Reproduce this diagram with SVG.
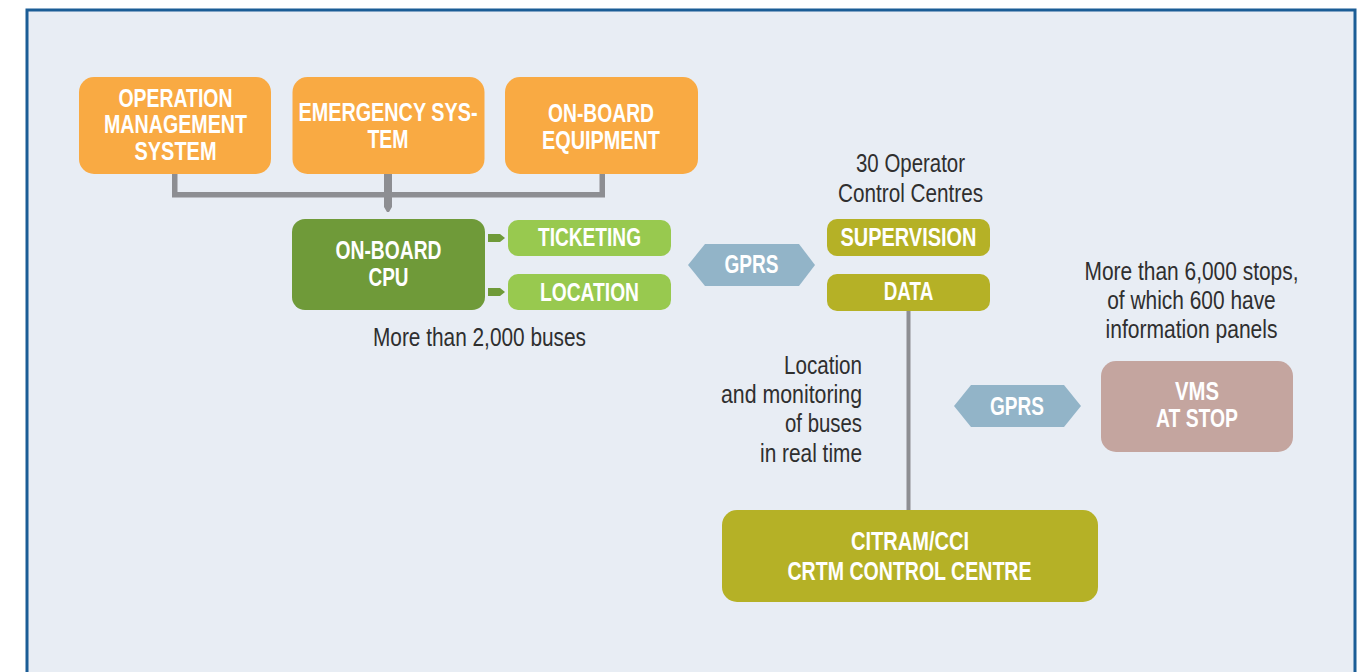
<svg xmlns="http://www.w3.org/2000/svg" width="1367" height="672" viewBox="0 0 1367 672">
  <defs>
    <style>
      .lbl { font-family: "Liberation Sans", Arial, sans-serif; font-weight: bold; font-size: 25px; fill: #ffffff; text-anchor: middle; }
      .note { font-family: "Liberation Sans", Arial, sans-serif; font-size: 25px; fill: #2f2f2f; text-anchor: middle; }
      .note-r { text-anchor: end; }
      .orange { fill: #f9aa43; }
      .cpu { fill: #6f9a39; }
      .lime { fill: #98c94f; }
      .olive { fill: #b5b126; }
      .link { fill: #92b4c8; }
      .stop { fill: #c4a59f; }
      .wire { fill: #8d8e92; }
      .tap { fill: #6f9a39; }
    </style>
  </defs>

  <!-- page and frame -->
  <rect x="0" y="0" width="1367" height="672" fill="#ffffff"/>
  <rect x="27" y="10" width="1328" height="700" fill="#e8edf4" stroke="#1b5d96" stroke-width="3"/>

  <!-- connectors -->
  <g id="connectors">
    <rect class="wire" x="172" y="173" width="5.5" height="24"/>
    <rect class="wire" x="599.5" y="173" width="5.5" height="24"/>
    <rect class="wire" x="172" y="192" width="433" height="5.5"/>
    <polygon class="wire" points="384,173 392,173 392,207 389,212 387,212 384,207"/>
    <polygon class="tap" points="488,234 500,234 505,238 500,242 488,242"/>
    <polygon class="tap" points="488,288 500,288 505,292 500,296 488,296"/>
    <rect class="wire" x="906.5" y="310" width="4" height="201"/>
  </g>

  <!-- upstream on-board systems -->
  <g id="operation-management">
    <rect class="orange" x="79" y="77" width="192" height="97" rx="15"/>
    <text class="lbl" x="175.5" y="107" textLength="114" lengthAdjust="spacingAndGlyphs">OPERATION</text>
    <text class="lbl" x="175.5" y="133" textLength="143" lengthAdjust="spacingAndGlyphs">MANAGEMENT</text>
    <text class="lbl" x="175.5" y="160" textLength="82" lengthAdjust="spacingAndGlyphs">SYSTEM</text>
  </g>
  <g id="emergency-system">
    <rect class="orange" x="292.5" y="77" width="192" height="97" rx="15"/>
    <text class="lbl" x="388" y="121" textLength="179" lengthAdjust="spacingAndGlyphs">EMERGENCY SYS-</text>
    <text class="lbl" x="388" y="148" textLength="41" lengthAdjust="spacingAndGlyphs">TEM</text>
  </g>
  <g id="on-board-equipment">
    <rect class="orange" x="505" y="77" width="193" height="97" rx="15"/>
    <text class="lbl" x="601" y="122" textLength="106" lengthAdjust="spacingAndGlyphs">ON-BOARD</text>
    <text class="lbl" x="601" y="149" textLength="118" lengthAdjust="spacingAndGlyphs">EQUIPMENT</text>
  </g>

  <!-- bus unit -->
  <g id="on-board-cpu">
    <rect class="cpu" x="292" y="219" width="193" height="91" rx="13"/>
    <text class="lbl" x="388.5" y="259" textLength="106" lengthAdjust="spacingAndGlyphs">ON-BOARD</text>
    <text class="lbl" x="388.5" y="286" textLength="40" lengthAdjust="spacingAndGlyphs">CPU</text>
  </g>
  <g id="ticketing">
    <rect class="lime" x="508" y="220" width="163" height="36" rx="10"/>
    <text class="lbl" x="589.5" y="246" textLength="103" lengthAdjust="spacingAndGlyphs">TICKETING</text>
  </g>
  <g id="location">
    <rect class="lime" x="508" y="274" width="163" height="36" rx="10"/>
    <text class="lbl" x="589.5" y="301" textLength="99" lengthAdjust="spacingAndGlyphs">LOCATION</text>
  </g>
  <g id="bus-count">
    <text class="note" x="479.5" y="346" textLength="213" lengthAdjust="spacingAndGlyphs">More than 2,000 buses</text>
  </g>

  <!-- radio links -->
  <g id="gprs-bus">
    <polygon class="link" points="688,265 705,244 799,244 815,265 799,286 705,286"/>
    <text class="lbl" x="751.5" y="273" textLength="54" lengthAdjust="spacingAndGlyphs">GPRS</text>
  </g>
  <g id="gprs-stop">
    <polygon class="link" points="954,406 971,385 1064,385 1081,406 1064,427 971,427"/>
    <text class="lbl" x="1017" y="415" textLength="54" lengthAdjust="spacingAndGlyphs">GPRS</text>
  </g>

  <!-- operator control centres -->
  <g id="operator-centres">
    <text class="note" x="910.5" y="172" textLength="109" lengthAdjust="spacingAndGlyphs">30 Operator</text>
    <text class="note" x="910.5" y="201.5" textLength="145" lengthAdjust="spacingAndGlyphs">Control Centres</text>
  </g>
  <g id="supervision">
    <rect class="olive" x="827" y="219" width="163" height="37" rx="10"/>
    <text class="lbl" x="908.5" y="246" textLength="136" lengthAdjust="spacingAndGlyphs">SUPERVISION</text>
  </g>
  <g id="data">
    <rect class="olive" x="827" y="274" width="163" height="37" rx="10"/>
    <text class="lbl" x="908.5" y="300" textLength="49.5" lengthAdjust="spacingAndGlyphs">DATA</text>
  </g>
  <g id="tracking-note">
    <text class="note note-r" x="862" y="374" textLength="78" lengthAdjust="spacingAndGlyphs">Location</text>
    <text class="note note-r" x="862" y="403" textLength="141" lengthAdjust="spacingAndGlyphs">and monitoring</text>
    <text class="note note-r" x="862" y="432" textLength="77" lengthAdjust="spacingAndGlyphs">of buses</text>
    <text class="note note-r" x="862" y="461.5" textLength="102" lengthAdjust="spacingAndGlyphs">in real time</text>
  </g>

  <!-- stops -->
  <g id="stops-note">
    <text class="note" x="1191.5" y="280" textLength="214" lengthAdjust="spacingAndGlyphs">More than 6,000 stops,</text>
    <text class="note" x="1191.5" y="309" textLength="168.5" lengthAdjust="spacingAndGlyphs">of which 600 have</text>
    <text class="note" x="1191.5" y="338" textLength="172" lengthAdjust="spacingAndGlyphs">information panels</text>
  </g>
  <g id="vms-at-stop">
    <rect class="stop" x="1101" y="361" width="192" height="91" rx="15"/>
    <text class="lbl" x="1197" y="400" textLength="44" lengthAdjust="spacingAndGlyphs">VMS</text>
    <text class="lbl" x="1197" y="427" textLength="82" lengthAdjust="spacingAndGlyphs">AT STOP</text>
  </g>

  <!-- central control -->
  <g id="crtm-control-centre">
    <rect class="olive" x="722" y="510" width="376" height="92" rx="15"/>
    <text class="lbl" x="910" y="550" textLength="118" lengthAdjust="spacingAndGlyphs">CITRAM/CCI</text>
    <text class="lbl" x="909.5" y="580" textLength="244" lengthAdjust="spacingAndGlyphs">CRTM CONTROL CENTRE</text>
  </g>
</svg>
